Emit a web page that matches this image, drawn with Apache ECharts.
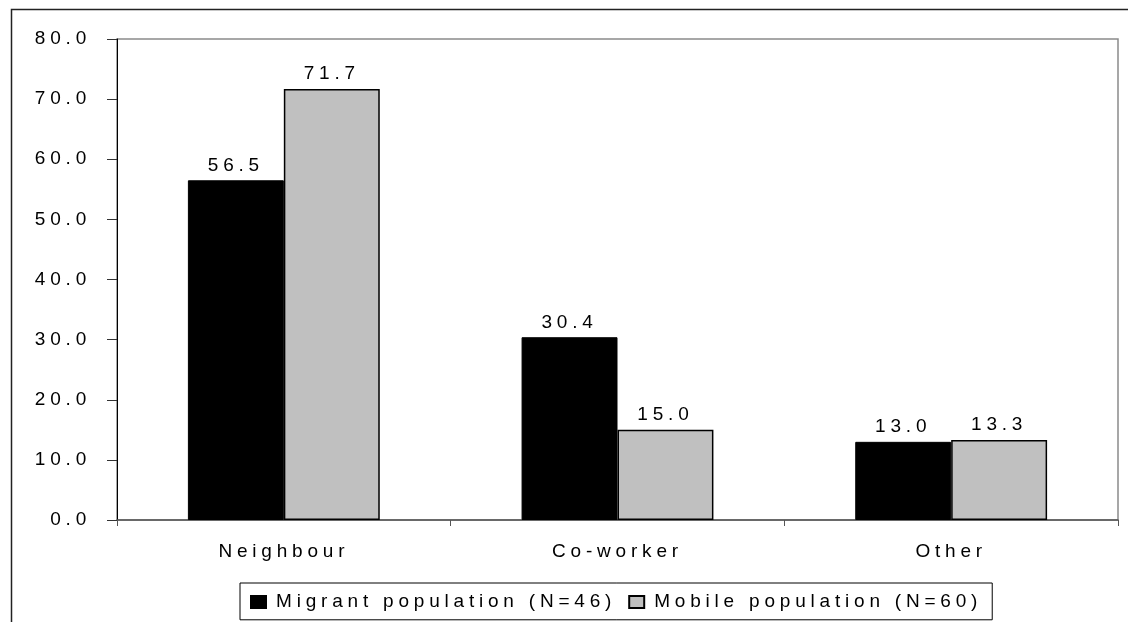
<!DOCTYPE html>
<html>
<head>
<meta charset="utf-8">
<script src="https://cdn.jsdelivr.net/npm/echarts@6/dist/echarts.min.js"></script>
<style>
html,body{margin:0;padding:0;background:#fff;}
#chart{width:1128px;height:622px;}
</style>
</head>
<body>
<div id="chart"></div>
<script>
// Wide letter spacing like the original (applied to canvas text drawing and measuring)
(function(){
  var desc = Object.getOwnPropertyDescriptor(CanvasRenderingContext2D.prototype, 'font');
  if (desc && desc.set) {
    Object.defineProperty(CanvasRenderingContext2D.prototype, 'font', {
      configurable: true,
      get: function(){ return desc.get.call(this); },
      set: function(v){
        desc.set.call(this, v);
        try { this.letterSpacing = '4.8px'; } catch(e){}
      }
    });
  }
})();

var categories = ['Neighbour', 'Co-worker', 'Other'];
var migrantName = 'Migrant population (N=46)';
var mobileName = 'Mobile population (N=60)';
var migrantValues = [56.5, 30.4, 13.0];
var mobileValues = [71.7, 15.0, 13.3];
var yTicks = [0, 10, 20, 30, 40, 50, 60, 70, 80];

var FONT = 'Liberation Sans, Arial, sans-serif';
var chart = echarts.init(document.getElementById('chart'), null, {renderer: 'canvas'});

var labelOpt = {
  show: true, position: 'top', distance: 3,
  color: '#000', fontFamily: FONT, fontSize: 19,
  formatter: function(p){ return p.value.toFixed(1); }
};

chart.setOption({
  backgroundColor: '#fff',
  animation: false,
  graphic: [{
    type: 'rect', left: 9, top: 7, silent: true, z: -10,
    shape: {width: 1300, height: 800},
    style: {fill: 'none', stroke: '#222', lineWidth: 1.5}
  }],
  grid: {
    left: 117, top: 39, right: 10, bottom: 102,
    show: true, borderColor: '#8a8a8a', borderWidth: 1.5, backgroundColor: '#fff'
  },
  legend: {
    left: 240, top: 583,
    data: [migrantName, mobileName],
    itemWidth: 15, itemHeight: 12, itemGap: 12,
    padding: [7, 10, 6, 10],
    borderColor: '#000', borderWidth: 1, backgroundColor: '#fff',
    icon: 'rect',
    textStyle: {color: '#000', fontFamily: FONT, fontSize: 19, padding: [0, 0, 0, 5]}
  },
  xAxis: {
    type: 'category',
    data: categories,
    axisLine: {show: true, lineStyle: {color: '#555', width: 1.5}},
    axisTick: {show: true, alignWithLabel: false, length: 6, lineStyle: {color: '#555'}},
    axisLabel: {color: '#000', fontFamily: FONT, fontSize: 19, margin: 20},
    splitLine: {show: false}
  },
  yAxis: {
    type: 'value',
    min: yTicks[0], max: yTicks[yTicks.length - 1], interval: 10,
    axisLine: {show: true, lineStyle: {color: '#000', width: 1}},
    axisTick: {show: true, length: 10, lineStyle: {color: '#333'}},
    axisLabel: {color: '#000', fontFamily: FONT, fontSize: 19, margin: 26,
      formatter: function(v){ return v.toFixed(1); }},
    splitLine: {show: false}
  },
  series: [{
    name: migrantName, type: 'bar', data: migrantValues,
    barGap: '0%', barCategoryGap: '42.5%',
    itemStyle: {color: '#000', borderColor: '#000', borderWidth: 1},
    label: labelOpt
  }, {
    name: mobileName, type: 'bar', data: mobileValues,
    itemStyle: {color: '#c0c0c0', borderColor: '#000', borderWidth: 1.5},
    label: labelOpt
  }]
});
</script>
</body>
</html>
